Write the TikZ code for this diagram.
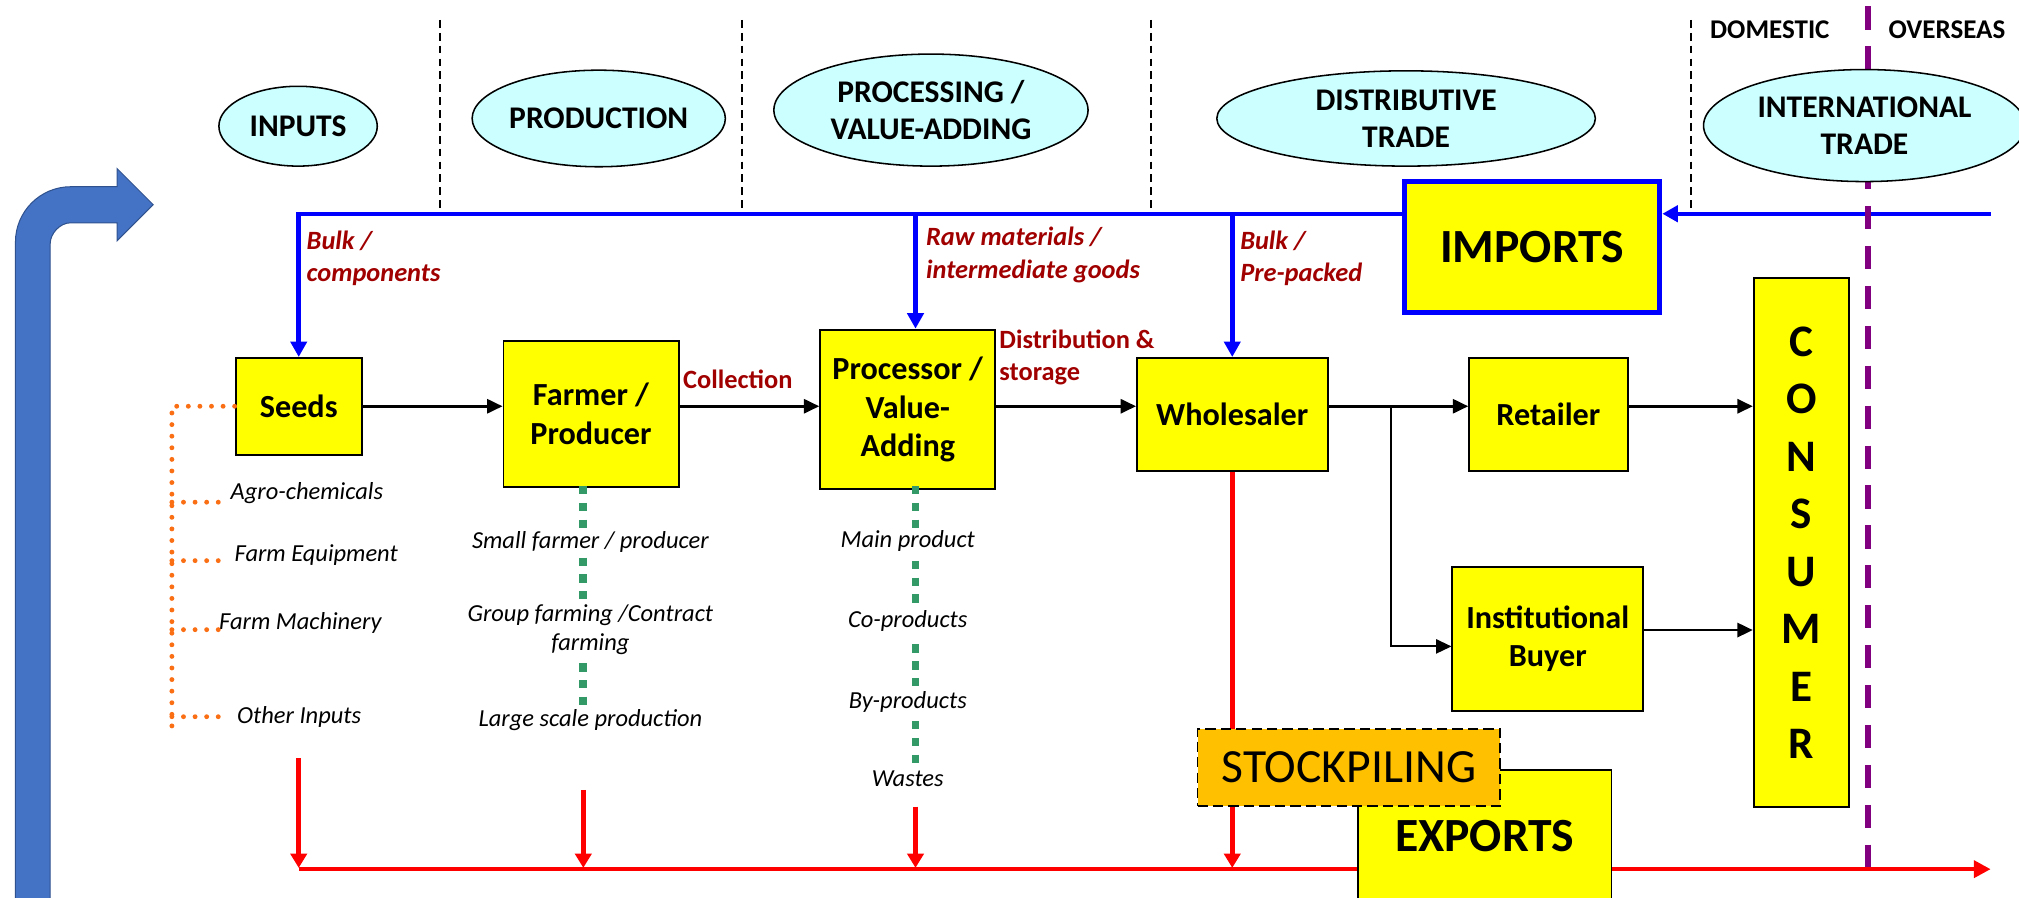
\documentclass[tikz,border=0pt]{standalone}
\usepackage{fontspec}
\setmainfont{Carlito}
\usetikzlibrary{arrows.meta,shapes.geometric,calc}

\definecolor{ellfill}{HTML}{CCFFFF}
\definecolor{boxy}{HTML}{FFFF00}
\definecolor{lbldarkred}{RGB}{160,0,0}
\definecolor{pureblue}{RGB}{0,0,255}
\definecolor{bigblue}{HTML}{4472C4}
\definecolor{bigblueedge}{HTML}{2F528F}
\definecolor{redline}{RGB}{255,0,0}
\definecolor{dotorange}{RGB}{250,110,20}
\definecolor{dotgreen}{RGB}{51,153,102}
\definecolor{purpleline}{RGB}{128,0,128}
\definecolor{stockfill}{HTML}{FFC000}

\newcommand{\myfs}[2]{\fontsize{#1}{#2}\selectfont}

\begin{document}
\begin{tikzpicture}[x=1pt,y=-1pt,
  phase/.style={ellipse,draw=black,line width=1.2pt,fill=ellfill,inner sep=0pt,align=center,font=\bfseries\myfs{24.5}{28.5}},
  ybox/.style={rectangle,draw=black,line width=1.5pt,fill=boxy,inner sep=0pt,align=center,font=\bfseries\myfs{25}{30}},
  flowlbl/.style={text=lbldarkred,font=\bfseries\itshape\myfs{20.5}{25},align=left,inner sep=0pt,anchor=west},
  plainlbl/.style={text=lbldarkred,font=\bfseries\myfs{20.5}{25},align=left,inner sep=0pt},
  note/.style={font=\itshape\myfs{19}{22},align=center,inner sep=0pt},
  blk/.style={draw=black,line width=2pt,-{Triangle[length=12pt,width=11pt]}},
  bluearr/.style={draw=pureblue,line width=3.5pt,-{Triangle[length=12pt,width=12.5pt]}},
  redarr/.style={draw=redline,line width=3.5pt,-{Triangle[length=11pt,width=12.5pt]}},
  orangedots/.style={draw=dotorange,line width=3.8pt,line cap=round,dash pattern=on 0pt off 9pt},
  greendots/.style={draw=dotgreen,line width=6pt,dash pattern=on 6.5pt off 6.5pt},
  phaseline/.style={draw=black,line width=1.3pt,dash pattern=on 6pt off 4pt},
]
\useasboundingbox (0,0) rectangle (1568,697);

% big blue bent arrow
\filldraw[fill=bigblue,draw=bigblueedge,line width=0.8pt]
  (12,705) -- (12,188) .. controls (12,164.25) and (31.25,145) .. (55,145)
  -- (91,145) -- (91,131) -- (119,159) -- (91,187) -- (91,173) -- (55,173)
  .. controls (46.2,173) and (39,181.8) .. (39,189) -- (39,705) -- cycle;

% phase separators
\draw[phaseline] (341.5,15.5) -- (341.5,162);
\draw[phaseline] (576,15.5) -- (576,162);
\draw[phaseline] (894,15.5) -- (894,162);
\draw[phaseline] (1313.5,15.5) -- (1313.5,162);

\node[font=\bfseries\myfs{21}{24},inner sep=0pt] (domestic) at (1374.5,23) {DOMESTIC};
\node[font=\bfseries\myfs{21}{24},inner sep=0pt] (overseas) at (1512,23) {OVERSEAS};

% boxes
\node[ybox,minimum width=98pt,minimum height=75pt] (seeds) at (232,315.5) {Seeds};
\node[ybox,minimum width=136pt,minimum height=113pt] (farmer) at (459,321.5) {Farmer /\\Producer};
\node[ybox,minimum width=136pt,minimum height=124pt] (processor) at (705,318) {Processor /\\Value-\\Adding};
\node[ybox,minimum width=148pt,minimum height=88pt] (wholesaler) at (957,322) {Wholesaler};
\node[ybox,minimum width=123pt,minimum height=88pt] (retailer) at (1202.5,322) {Retailer};
\node[ybox,minimum width=148pt,minimum height=112pt,font=\bfseries\myfs{25}{29}] (instit) at (1202,496) {Institutional\\Buyer};
\node[ybox,minimum width=74pt,minimum height=411pt,font=\bfseries\myfs{35}{44.6}] (consumer) at (1399,421.5) {C\\O\\N\\S\\U\\M\\E\\R};
\node[ybox,draw=pureblue,line width=4pt,minimum width=198pt,minimum height=102pt,font=\bfseries\myfs{37}{40}] (imports) at (1190,192) {IMPORTS};

% blue import lines
\coordinate (bluestart) at (1546,166);
\coordinate (procin) at (711,166);
\draw[bluearr] (bluestart) -- (imports.east |- bluestart);
\draw[pureblue,line width=3.5pt,line join=miter,-{Triangle[length=12pt,width=12.5pt]}]
  (imports.west |- bluestart) -- (seeds.north |- bluestart) -- (seeds.north);
\draw[bluearr] (procin) -- (procin |- processor.north);
\draw[bluearr] (wholesaler.north |- bluestart) -- (wholesaler.north);

% purple border line
\draw[draw=purpleline,line width=4pt,dash pattern=on 18pt off 13pt] (1450.7,5) -- (1450.7,673);

% phase ellipses
\node[phase,minimum width=123pt,minimum height=62pt] (inputs) at (231.5,98) {INPUTS};
\node[phase,minimum width=172pt,minimum height=75pt] (production) at (465,92) {PRODUCTION};
\node[phase,minimum width=244pt,minimum height=87pt] (processing) at (723,85.5) {PROCESSING /\\VALUE-ADDING};
\node[phase,minimum width=294pt,minimum height=74pt] (distrib) at (1092,92) {DISTRIBUTIVE\\TRADE};
\node[phase,minimum width=250pt,minimum height=87pt] (intl) at (1448,97.5) {INTERNATIONAL\\TRADE};

% flow labels
\node[flowlbl] (lblbulk) at (238,200.5) {Bulk /\\components};
\node[flowlbl] (lblraw) at (719,198) {Raw materials /\\intermediate goods};
\node[flowlbl] (lblpre) at (963,200.5) {Bulk /\\Pre-packed};
\node[plainlbl] (lblcoll) at (573,294.5) {Collection};
\node[plainlbl,anchor=west] (lbldist) at (776,277.5) {Distribution \&\\storage};

% main black flow
\coordinate (row) at (0,315.5);
\draw[blk] (seeds.east) -- (seeds.east -| farmer.west);
\draw[blk] (farmer.east |- row) -- (processor.west |- row);
\draw[blk] (processor.east |- row) -- (wholesaler.west |- row);
\draw[blk] (wholesaler.east |- row) -- (retailer.west |- row);
\draw[blk] (retailer.east |- row) -- (consumer.west |- row);
\coordinate (branch) at (1080,315.5);
\coordinate (branchlow) at (1080,502);
\draw[blk,line width=1.6pt] (branch) -- (branchlow) -- (instit.west |- branchlow);
\coordinate (instout) at (0,489.3);
\draw[blk] (instit.east |- instout) -- (consumer.west |- instout);

% input notes with orange dots
\node[note,anchor=west] (agro) at (179,383) {Agro-chemicals};
\node[note,anchor=west] (equip) at (182,431) {Farm Equipment};
\node[note,anchor=west] (mach) at (170,484) {Farm Machinery};
\node[note,anchor=west] (other) at (184,557) {Other Inputs};
\coordinate (ovtop) at (133.5,315.5);
\coordinate (ovbot) at (133.5,564);
\draw[orangedots] (seeds.west) -- (ovtop) -- (ovbot);
\coordinate (oa) at (133.5,390);
\coordinate (ob) at (133.5,435.4);
\coordinate (oc) at (133.5,489);
\coordinate (od) at (133.5,556.6);
\draw[orangedots] (oa) -- ++(37,0);
\draw[orangedots] (ob) -- ++(37,0);
\draw[orangedots] (oc) -- ++(37,0);
\draw[orangedots] (od) -- ++(37,0);

% farmer notes
\node[note] (small) at (458.5,421) {Small farmer / producer};
\node[note] (group) at (458.5,489) {Group farming /Contract\\farming};
\node[note] (large) at (458.5,559.5) {Large scale production};
\coordinate (fg1) at (453,377.5);
\coordinate (fg2) at (453,433);
\coordinate (fg3) at (453,515);
\draw[greendots] (fg1) -- ++(0,32.5);
\draw[greendots] (fg2) -- ++(0,32.5);
\draw[greendots] (fg3) -- ++(0,32.5);

% processor notes
\node[note] (mainp) at (705,420.5) {Main product};
\node[note] (cop) at (705,482.5) {Co-products};
\node[note] (byp) at (705,545) {By-products};
\node[note] (wastes) at (705,605) {Wastes};
\coordinate (pg1) at (711,377.5);
\coordinate (pg2) at (711,435.5);
\coordinate (pg3) at (711,500.5);
\coordinate (pg4) at (711,560);
\draw[greendots] (pg1) -- ++(0,32.5);
\draw[greendots] (pg2) -- ++(0,32.5);
\draw[greendots] (pg3) -- ++(0,32.5);
\draw[greendots] (pg4) -- ++(0,32.5);

% red export lines
\coordinate (redstart) at (232,675);
\coordinate (redend) at (1546,675);
\draw[draw=redline,line width=3.5pt,-{Triangle[length=13pt,width=13pt]}] (redstart) -- (redend);
\coordinate (r1) at (232,589);
\coordinate (r2) at (453,613.5);
\coordinate (r3) at (711,626.5);
\draw[redarr] (r1) -- (232,674);
\draw[redarr] (r2) -- (453,674);
\draw[redarr] (r3) -- (711,674);
\draw[redarr] (wholesaler.south) -- (wholesaler.south |- 0,674);

% exports and stockpiling
\node[ybox,minimum width=197pt,minimum height=103pt,anchor=north,font=\bfseries\myfs{37}{40}] (exports) at (1153,597) {EXPORTS};
\node[rectangle,draw=black,line width=1.5pt,dash pattern=on 8pt off 4pt,fill=stockfill,minimum width=235pt,minimum height=60pt,inner sep=0pt,font=\myfs{37}{40}] (stock) at (1047.5,596) {STOCKPILING};
\end{tikzpicture}
\end{document}
